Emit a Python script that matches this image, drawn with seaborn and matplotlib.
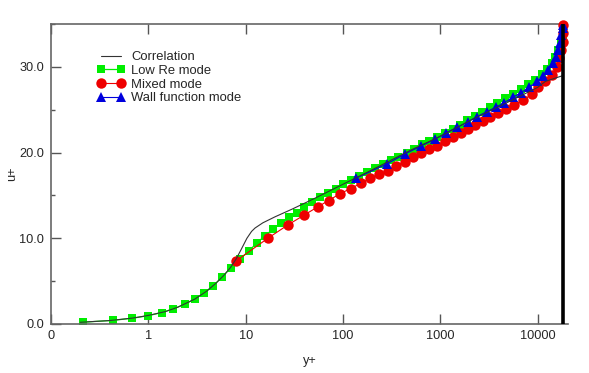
import matplotlib
matplotlib.use("Agg")
import matplotlib.pyplot as plt
import seaborn as sns
import pandas as pd
from matplotlib.ticker import FixedLocator, FixedFormatter, MultipleLocator

# values (y+ on a log axis, u+ linear)
corr_yplus = [0.2, 0.4, 0.7, 1, 1.5, 2, 3, 4, 5, 6, 7, 8, 9, 10.3, 11.5, 12.5, 15, 20, 30, 50,
              100, 200, 500, 1000, 2000, 5000, 10000, 12000, 18400]
corr_uplus = [0.2, 0.4, 0.7, 1.0, 1.45, 1.95, 2.9, 3.85, 4.8, 5.7, 6.6, 7.6, 8.7, 10.0, 10.8, 11.2, 11.8, 12.5, 13.4, 14.6,
              16.3, 18.0, 20.3, 21.9, 23.7, 25.9, 27.6, 28.3, 29.0]

lowre_yplus = [0.215, 0.43, 0.685, 1.0, 1.37, 1.81, 2.37, 3.0, 3.77, 4.66, 5.76, 7.08, 8.75, 10.8, 13.0, 15.8,
               19.0, 23.0, 27.7, 33.5, 40.1, 48.5, 58.2, 69.8, 84.3, 101, 122, 146, 177, 214, 256, 308, 371,
               450, 538, 646, 773, 934, 1120, 1343, 1598, 1900, 2254, 2692, 3214, 3838, 4637, 5563, 6686,
               8046, 9433, 11050, 12440, 13990, 15140, 16370, 17330, 18080, 18300, 18400]
lowre_uplus = [0.21, 0.42, 0.67, 0.97, 1.33, 1.77, 2.3, 2.92, 3.65, 4.47, 5.52, 6.57, 7.58, 8.52, 9.45, 10.3,
               11.05, 11.75, 12.45, 13.0, 13.69, 14.27, 14.86, 15.32, 15.75, 16.3, 16.77, 17.27, 17.68, 18.2,
               18.64, 19.1, 19.52, 19.99, 20.45, 20.97, 21.39, 21.86, 22.32, 22.72, 23.22, 23.75, 24.27, 24.77,
               25.32, 25.76, 26.32, 26.84, 27.42, 27.97, 28.47, 29.14, 29.75, 30.42, 31.19, 31.97, 32.75,
               33.53, 34.3, 34.9]

mixed_yplus = [7.96, 16.9, 27.1, 39.8, 54.8, 71.1, 93.3, 120, 152, 190, 236, 289, 352, 430, 525, 640, 773,
               934, 1128, 1364, 1637, 1945, 2290, 2737, 3251, 3957, 4746, 5737, 7149, 8715, 10190, 11940,
               13990, 15750, 16750, 17560, 18160, 18350, 18400]
mixed_uplus = [7.35, 10.0, 11.55, 12.7, 13.65, 14.4, 15.2, 15.8, 16.4, 17.0, 17.5, 17.9, 18.45, 18.95, 19.5,
               19.9, 20.4, 20.8, 21.35, 21.8, 22.25, 22.7, 23.2, 23.7, 24.1, 24.6, 25.1, 25.55, 26.15, 26.8,
               27.6, 28.3, 29.05, 30.0, 31.0, 32.0, 32.9, 33.9, 34.9]

wall_yplus = [136, 282, 435, 635, 885, 1148, 1500, 1919, 2372, 3004, 3718, 4557, 5563, 6765, 8240, 9815,
              11480, 12920, 14330, 15390, 16370, 17030, 17450, 18100, 18400]
wall_uplus = [17.0, 18.67, 19.84, 20.77, 21.55, 22.32, 22.95, 23.6, 24.19, 24.77, 25.29, 25.83, 26.45, 27.0,
              27.63, 28.29, 28.95, 29.64, 30.42, 31.19, 31.97, 32.82, 33.72, 34.5, 34.9]

xtick_values = [0.1, 1, 10, 100, 1000, 10000]
xtick_labels = ["0", "1", "10", "100", "1000", "10000"]

sns.set_style("white")
plt.rcParams["font.family"] = ["Liberation Sans", "DejaVu Sans"]

fig = plt.figure(figsize=(5.89, 3.73), dpi=100)
ax = fig.add_axes([0.0866, 0.1314, 0.8777, 0.8043])

corr = pd.DataFrame({"y+": corr_yplus, "u+": corr_uplus})
lowre = pd.DataFrame({"y+": lowre_yplus, "u+": lowre_uplus})
mixed = pd.DataFrame({"y+": mixed_yplus, "u+": mixed_uplus})
wall = pd.DataFrame({"y+": wall_yplus, "u+": wall_uplus})

sns.lineplot(data=lowre, x="y+", y="u+", ax=ax, sort=False, estimator=None, color="#00ee00", lw=0.9,
             marker="s", markersize=5.8, mec="#00ee00", mew=0, label="Low Re mode", zorder=2)
sns.lineplot(data=mixed, x="y+", y="u+", ax=ax, sort=False, estimator=None, color="#ee0000", lw=0.8,
             marker="o", markersize=7.5, mec="#ee0000", mew=0, label="Mixed mode", zorder=3, clip_on=False)
sns.lineplot(data=wall, x="y+", y="u+", ax=ax, sort=False, estimator=None, color="#0000dd", lw=0.8,
             marker="^", markersize=7.5, mec="#0000dd", mew=0, label="Wall function mode", zorder=4)
sns.lineplot(data=corr, x="y+", y="u+", ax=ax, sort=False, estimator=None, color="#333333", lw=0.8,
             label="Correlation", zorder=5)

ax.set_xscale("log")
ax.set_xlim(0.1, 20500)
ax.set_ylim(0, 35)

# thick black line at the outer edge of the data
ax.axvline(max(lowre_yplus), color="black", lw=2.6, zorder=6)

ax.xaxis.set_major_locator(FixedLocator(xtick_values))
ax.xaxis.set_major_formatter(FixedFormatter(xtick_labels))
ax.xaxis.set_minor_locator(FixedLocator([]))
ax.yaxis.set_major_locator(MultipleLocator(10))
ax.yaxis.set_minor_locator(MultipleLocator(5))
ax.yaxis.set_major_formatter(plt.FormatStrFormatter("%.1f"))

ax.tick_params(axis="x", which="major", direction="in", length=7, width=1, color="#555555",
               top=True, bottom=True, labelsize=9.2, pad=4)
ax.tick_params(axis="y", which="major", direction="in", length=7, width=1, color="#555555",
               left=True, right=False, labelsize=9.2, pad=5)
ax.tick_params(axis="y", which="minor", direction="in", length=3, width=1, color="#555555", left=True)

for side in ["left", "bottom", "top"]:
    ax.spines[side].set_color("#666666")
    ax.spines[side].set_linewidth(1.2)
ax.spines["right"].set_visible(False)
ax.spines["top"].set_bounds(0.1, max(lowre_yplus))

ax.set_xlabel("y+", fontsize=9.2, labelpad=10)
ax.set_ylabel("u+", fontsize=9.2, labelpad=0.5)

handles, labels = ax.get_legend_handles_labels()
order = [3, 0, 1, 2]
ax.legend([handles[i] for i in order], [labels[i] for i in order], loc="upper left",
          bbox_to_anchor=(0.089, 0.91), frameon=False, fontsize=9.4, numpoints=2,
          handlelength=2.15, handletextpad=0.45, labelspacing=0.12, borderpad=0, borderaxespad=0)

fig.savefig("out.png", dpi=100)
